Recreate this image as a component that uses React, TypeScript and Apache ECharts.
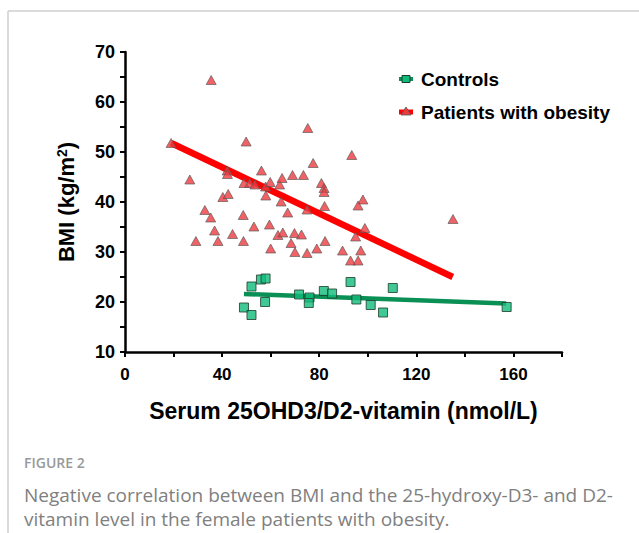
import React, { useEffect, useRef } from "react";
import * as echarts from "echarts";

const patients: number[][] = [
  [19, 51.8], [35.5, 64.4], [26.7, 44.5], [49.9, 52.1], [42.1, 46.3], [42.2, 45.6],
  [75.3, 54.8], [77.5, 47.8], [56.2, 46.3], [49, 43.8], [51.4, 43.8], [53.5, 43.5],
  [57.9, 43.1], [59.8, 44], [63.7, 43.5], [64.7, 44.8], [69, 45.4], [73.5, 45.4],
  [80.9, 43.8], [82, 42.8], [82, 42], [40.3, 41], [42.5, 41.6], [58, 41.3],
  [64.3, 40.1], [32.9, 38.4], [35.3, 36.9], [48.7, 37.4], [67, 37.9], [75, 38.5],
  [36.9, 34.3], [53.1, 35.1], [59.5, 35.5], [44.3, 33.6], [63, 33.4], [65, 33.9],
  [69.8, 33.8], [72.7, 33.5], [29.2, 32.2], [38.3, 32.2], [48.8, 32.2], [68.4, 31.8],
  [60, 30.7], [70, 30], [75, 29.8], [79, 30.7], [98, 40.5], [96, 39.3],
  [82.2, 39.2], [135.1, 36.6], [98.8, 34.8], [95, 33.1], [82.4, 32.2], [89.6, 30.3],
  [97.1, 30.3], [92.9, 28.3], [96, 28.3], [93.4, 49.4],
];

const controls: number[][] = [
  [52.1, 23.1], [56, 24.5], [57.9, 24.7], [49, 18.9], [52.1, 17.4], [57.7, 20],
  [71.7, 21.5], [76, 20.9], [75.7, 19.8], [81.9, 22.2], [85.3, 21.7], [92.9, 24],
  [95.3, 20.5], [101.2, 19.4], [106.3, 17.9], [110.3, 22.8], [157.2, 19],
];

const patientsFit: number[][] = [[19, 51.8], [135, 25]];
const controlsFit: number[][] = [[49, 21.6], [157, 19.7]];

const xTickValues = [0, 20, 40, 60, 80, 100, 120, 140, 160, 180];
const xLabelValues = [0, 40, 80, 120, 160];
const yTickValues = [10, 15, 20, 25, 30, 35, 40, 45, 50, 55, 60, 65, 70];
const yLabelValues = [10, 20, 30, 40, 50, 60, 70];

const legendNames = ["Controls", "Patients with obesity"];
const captionTitle = "FIGURE 2";
const captionLines = [
  "Negative correlation between BMI and the 25-hydroxy-D3- and D2-",
  "vitamin level in the female patients with obesity.",
];

const RED = "#ff0000";
const TRI = "#ec3b3f";
const GREEN_LINE = "#0a8f55";
const SQ = "#10bb7a";
const FONT = "Liberation Sans, Arial, sans-serif";
const CAP_FONT = "Open Sans, sans-serif";

export default function App() {
  const ref = useRef<HTMLDivElement>(null);
  useEffect(() => {
    if (!ref.current) return;
    const chart = echarts.init(ref.current, undefined, { renderer: "svg" });
    const legendY = [79, 112];
    chart.setOption({
      animation: false,
      backgroundColor: "#fff",
      grid: { left: 125, top: 52, width: 437, height: 300, containLabel: false },
      xAxis: {
        type: "value",
        min: 0,
        max: 180,
        interval: 20,
        name: "Serum 25OHD3/D2-vitamin (nmol/L)",
        nameLocation: "middle",
        nameGap: 47,
        nameTextStyle: { fontFamily: FONT, fontWeight: "bold", fontSize: 23, color: "#000" },
        axisLine: { onZero: false, lineStyle: { color: "#000", width: 2.5 } },
        axisTick: { length: 5, customValues: xTickValues, lineStyle: { color: "#000", width: 2 } },
        splitLine: { show: false },
        axisLabel: {
          fontFamily: FONT,
          fontWeight: "bold",
          fontSize: 17,
          color: "#000",
          margin: 14,
          hideOverlap: false,
          customValues: xLabelValues,
        },
      },
      yAxis: {
        type: "value",
        min: 10,
        max: 70,
        interval: 5,
        name: "BMI (kg/m{sup|2})",
        nameLocation: "middle",
        nameRotate: 90,
        nameGap: 47,
        nameTextStyle: {
          fontFamily: FONT,
          fontWeight: "bold",
          fontSize: 22,
          color: "#000",
          rich: {
            sup: { fontFamily: FONT, fontWeight: "bold", fontSize: 14, color: "#000", verticalAlign: "top", padding: [0, 0, 9, 0] },
          },
        },
        axisLine: { show: true, onZero: false, lineStyle: { color: "#000", width: 2.5 } },
        axisTick: { show: true, length: 5, customValues: yTickValues, lineStyle: { color: "#000", width: 2 } },
        splitLine: { show: false },
        axisLabel: {
          fontFamily: FONT,
          fontWeight: "bold",
          fontSize: 18,
          color: "#000",
          margin: 10,
          hideOverlap: false,
          customValues: yLabelValues,
        },
      },
      series: [
        {
          type: "line",
          data: patientsFit,
          showSymbol: false,
          symbol: "none",
          lineStyle: { color: RED, width: 6.5 },
          z: 2,
        },
        {
          type: "line",
          data: controlsFit,
          showSymbol: false,
          symbol: "none",
          lineStyle: { color: GREEN_LINE, width: 4.5 },
          z: 2,
        },
        {
          name: legendNames[1],
          type: "scatter",
          data: patients,
          symbol: "triangle",
          symbolSize: [10, 9],
          itemStyle: { color: TRI, borderColor: "#555", borderWidth: 0.8 },
          z: 3,
        },
        {
          name: legendNames[0],
          type: "scatter",
          data: controls,
          symbol: "rect",
          symbolSize: 9,
          itemStyle: { color: SQ, borderColor: "#1d3b2c", borderWidth: 1 },
          z: 3,
        },
      ],
      graphic: [
        { type: "line", shape: { x1: 8, y1: 11, x2: 639, y2: 11 }, style: { stroke: "#cfcfcf", lineWidth: 1.5 } },
        { type: "line", shape: { x1: 8, y1: 11, x2: 8, y2: 533 }, style: { stroke: "#cfcfcf", lineWidth: 1.5 } },
        // legend
        { type: "rect", shape: { x: 399, y: legendY[0] - 2, width: 14, height: 4 }, style: { fill: GREEN_LINE } },
        { type: "rect", shape: { x: 402, y: legendY[0] - 3.5, width: 8, height: 7 }, style: { fill: SQ, stroke: "#1d3b2c", lineWidth: 1 } },
        { type: "text", x: 421, y: legendY[0], style: { text: legendNames[0], font: `bold 19px ${FONT}`, fill: "#000", verticalAlign: "middle" } },
        { type: "rect", shape: { x: 399, y: legendY[1] - 2.5, width: 14, height: 5 }, style: { fill: RED } },
        { type: "polygon", shape: { points: [[406, legendY[1] - 5], [411, legendY[1] + 3], [401, legendY[1] + 3]] }, style: { fill: TRI, stroke: "#555", lineWidth: 0.8 } },
        { type: "text", x: 421, y: legendY[1], style: { text: legendNames[1], font: `bold 19px ${FONT}`, fill: "#000", verticalAlign: "middle" } },
        // caption
        { type: "text", x: 24, y: 462, style: { text: captionTitle, font: `600 14px ${CAP_FONT}`, fill: "#999", verticalAlign: "middle" } },
        { type: "text", x: 24, y: 495, style: { text: captionLines[0], font: `19px ${CAP_FONT}`, fill: "#808080", verticalAlign: "middle" } },
        { type: "text", x: 24, y: 519, style: { text: captionLines[1], font: `19px ${CAP_FONT}`, fill: "#808080", verticalAlign: "middle" } },
      ],
    });
    return () => chart.dispose();
  }, []);
  return <div ref={ref} style={{ position: "fixed", left: 0, top: 0, width: 639, height: 533 }} />;
}
